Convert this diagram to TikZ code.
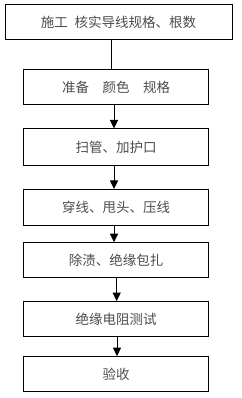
\documentclass[tikz,border=0pt]{standalone}
\usepackage{fontspec}
\newfontfamily\cjk{Noto Sans CJK SC}
\usetikzlibrary{arrows.meta}
\begin{document}
\begin{tikzpicture}[x=1pt,y=1pt,
  box/.style={draw=black, line width=1pt, rectangle, minimum height=35pt, minimum width=185pt,
    inner sep=0pt, font=\cjk\fontsize{13.5}{15}\selectfont, text=black!70},
  conn/.style={line width=1pt},
  arr/.style={line width=1pt, -{Triangle[width=8pt,length=8.5pt]}}]
\useasboundingbox (0,0) rectangle (241,-398);
\node[box, minimum width=227pt] (b1) at (118.5,-22.5) {施工\hspace{0.5em}核实导线规格、根数};
\node[box] (b2) at (116,-87.5) {准备\hspace{1em}颜色\hspace{1em}规格};
\node[box, minimum height=36pt] (b3) at (116,-147) {扫管、加护口};
\node[box, minimum height=36.5pt] (b4) at (116,-207.7) {穿线、甩头、压线};
\node[box] (b5) at (116,-260.2) {除渍、绝缘包扎};
\node[box, minimum height=35.3pt] (b6) at (116,-319.3) {绝缘电阻测试};
\node[box, minimum height=35.3pt] (b7) at (116,-374.3) {验收};
\draw[conn] ([xshift=-5pt]b2.north) -- ([xshift=-5pt]b2.north |- b1.south);
\draw[arr] ([xshift=-2pt]b2.south) -- ([xshift=-2pt]b3.north);
\draw[arr] ([xshift=-2pt]b3.south) -- ([xshift=-2pt]b4.north);
\draw[arr] ([xshift=-2pt]b4.south) -- ([xshift=-2pt]b5.north);
\draw[arr] ([xshift=0.7pt]b5.south) -- ([xshift=0.7pt]b6.north);
\draw[arr] ([xshift=1pt]b6.south) -- ([xshift=1pt]b7.north);
\end{tikzpicture}
\end{document}
